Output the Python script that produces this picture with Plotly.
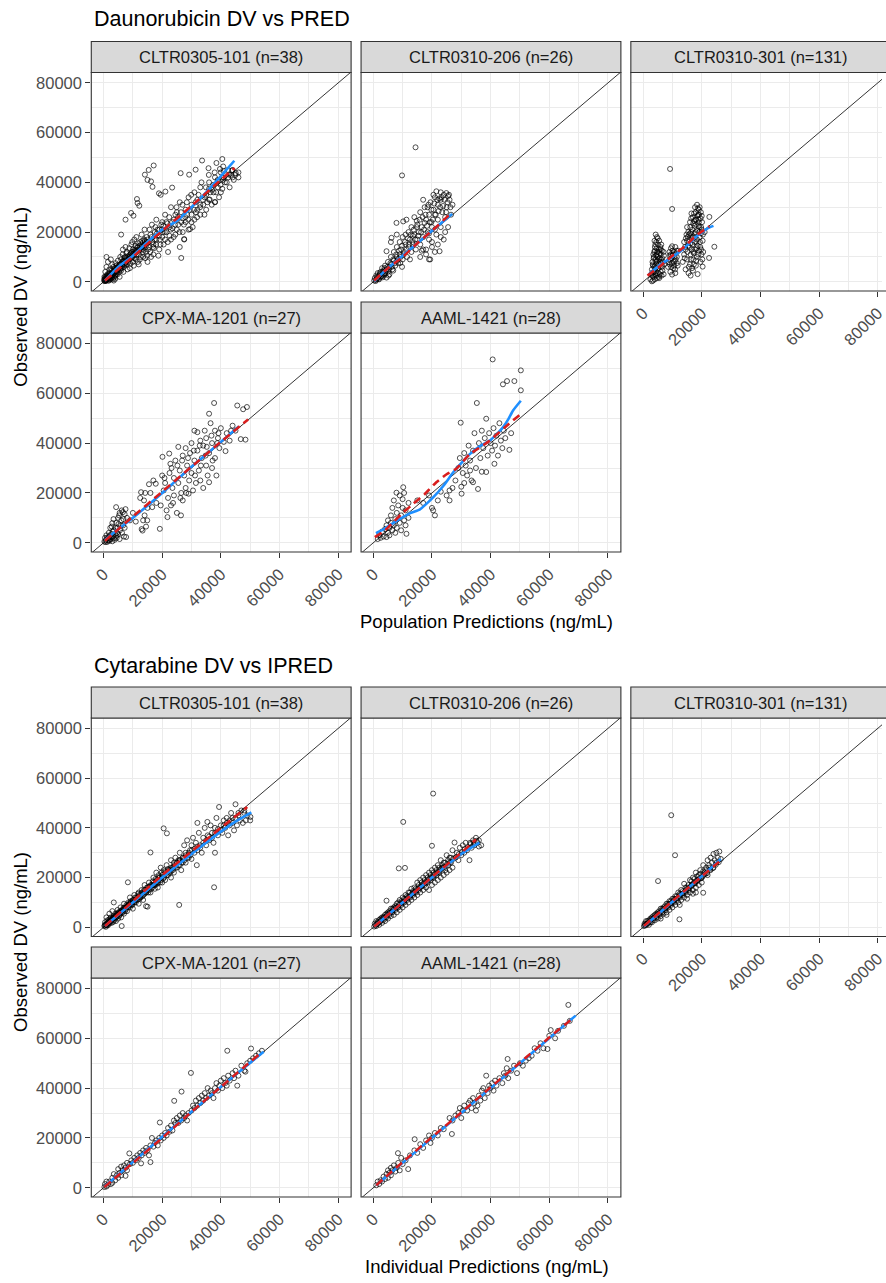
import plotly.graph_objects as go

W, H = 886, 1283
FONT = "Liberation Sans, Arial, sans-serif"
K = 1000.0

# ------------------------------------------------------------------ text
fig_titles = ["Daunorubicin DV vs PRED", "Cytarabine DV vs IPRED"]
x_titles = ["Population Predictions (ng/mL)", "Individual Predictions (ng/mL)"]
y_title = "Observed DV (ng/mL)"
strip_labels = ["CLTR0305-101 (n=38)", "CLTR0310-206 (n=26)", "CLTR0310-301 (n=131)",
                "CPX-MA-1201 (n=27)", "AAML-1421 (n=28)"]
tick_vals = [0, 20000, 40000, 60000, 80000]
tick_text = ["0", "20000", "40000", "60000", "80000"]
minor_vals = [10000, 30000, 50000, 70000]

# ------------------------------------------------------------------ data (thousands ng/mL): (prediction, observed)
dau_101 = [(0.5,0.3),(0.8,1.5),(1,0.5),(1.2,2.5),(1.5,1),(1.8,3.5),(2,1.5),(2.2,0.8),(2.5,2.8),(2.8,4.5),(3,2),(3.2,1),
    (3.5,3.5),(3.8,5.5),(4,2.5),(4.2,4),(4.5,6.5),(4.8,3),(5,5),(0.3,2),(0.6,4),(1,6),(1.5,8),(2,5),(3,7),(2.5,9),(1,10),
    (3.5,0.5),(4,1.2),(5.5,2),(5.5,7),(6,4.5),(6,9),(6.5,11),(7,6),(7,8.5),(7.5,10),(7.5,14),(8,7),(8,12),(8.5,9),(9,5.5),
    (9,11),(9.5,15),(10,8),(10,10),(10,13),(10.5,17),(11,9),(11,12),(11.5,14),(12,7),(12,11),(12.5,16),(13,13),(13,19),
    (13.5,10),(14,15),(14,21),(14.5,12),(15,17),(15,8),(15.5,14),(16,19),(16.5,23),(17,11),(17,15),(17.5,20),(18,17),(18,25),
    (19,13),(19,21),(20,18),(20,24),(20.5,15),(21,27),(21.5,20),(22,12),(22.5,22),(23,17),(23,30),(24,25),(24.5,19),(25,21),
    (25,28),(26,14),(26,32),(26.5,24),(27,20),(27.5,17),(28,29),(28,24),(29,21),(29,34),(30,27),(30,31),(31,25),(31,36),
    (32,29),(32,33),(33,27),(33,38),(34,31),(35,29),(35,35),(36,33),(36,40),(37,37),(38,32),(38,42),(39,38),(40,44),(40,36),
    (41,42),(42,40),(43,38),(44,42),(45,43),(46,44),
    (0.2,0.8),(0.4,1.2),(0.7,0.4),(0.9,2.2),(1.1,1.1),(1.3,3),(1.6,2),(1.9,0.9),(2.1,3.2),(2.4,1.2),(2.6,5),(2.9,2.6),(3.1,4),
    (3.4,6),(3.6,1.8),(3.9,4.8),(4.1,7.5),(4.4,3.2),(4.6,5.5),(4.9,8.5),(5.2,4),(5.4,6),(5.7,10),(6.1,5.5),(6.3,7.8),(6.6,13),
    (6.8,4),(7.1,9.8),(7.3,6.8),(7.8,11.5),(8.2,5),(8.4,9),(8.8,13.5),(9.2,7.2),(9.6,10.5),(9.8,16),(10.3,6.5),(10.6,11.5),
    (10.9,14.5),(11.2,18),(11.7,8),(12.2,12.5),(12.7,10),(13.2,16.5),(13.7,12.8),(14.2,9.5),(14.7,18),(15.2,13),(15.7,21),
    (16.2,10),(16.7,16),(17.2,13.5),(17.7,22),(18.2,19.5),(18.7,10.5),(19.2,17),(19.7,23),(20.2,20),(21,17),(21.8,23.5),
    (22.5,18.5),(23.5,21.5),(24.5,27),(25.5,23),(27,25.5),(28.5,27),(30,24),(31.5,28),(33,31),(34.5,34),(36,37.5),(37.5,36),
    (39,40.5),(41,44.5),(42.5,42),(44,45),
    (0.5,1.8),(0.9,0.6),(1.4,1.6),(1.7,0.4),(2.3,2),(2.7,1.4),(3.3,3),(3.7,2.6),(4.3,5),(4.7,4.2),(5.3,6.5),(5.8,5),(6.4,6),
    (6.9,8),(7.4,7.5),(7.9,9),(8.6,8),(9.1,9.5),(9.7,12),(10.4,9.5),(10.8,12.5),(11.3,11),(11.8,15.5),(12.4,9),(12.9,14),
    (13.4,12),(13.9,17),(14.4,14),(14.9,10.5),(15.4,16),(15.9,12),(16.4,18),(16.9,14),(17.4,17),(17.9,15),(18.4,21),
    (18.9,18.5),(19.4,15),(19.9,21),(20.4,22.5),(20.9,20),(21.4,24),(21.9,16),(22.4,26),(22.9,21),(23.4,24),(23.9,18),
    (24.4,23),(24.9,30),(25.4,26),(25.9,20),(26.4,28),(26.9,31),(27.4,23),(27.9,26),(28.4,32),(28.9,25),(29.4,29),(29.9,35),
    (30.4,22),(30.9,29),(31.4,32),(31.9,26),(32.4,35),(32.9,30),(33.4,40),(33.9,33),(34.4,27),(34.9,38),(35.4,32),(35.9,43),
    (36.4,36),(36.9,31),(37.4,39),(37.9,44),(38.4,36),(38.9,41),(39.4,34),(39.9,39),(40.4,42),(41.4,40),(42.4,45),(43.4,43),
    (44.4,41),(46,42),
    (6,19),(7.5,25),(9.4,27.7),(10.2,26.6),(11.4,33.3),(11.6,31.7),(12.2,30.6),(14.1,43.1),(15,41),(15.4,45),(16.2,40.4),
    (17.1,46.8),(16.7,38.2),(18.9,35.6),(19.5,35),(21.1,36.3),(23.4,37.9),(26.3,43.7),(29.2,43.1),(31.4,45.1),(33.6,48.8),
    (35.8,45.7),(38.5,47.8),(39.7,45.4),(40.5,49.4),(40.8,46.4),(26.5,9.6),(27.5,17.2),(29.5,21.2),(38,32.1),(36.2,33.1),
    (42.8,43.1),(45.1,43.7),(43.9,44.8),(40.5,37.4),(40.8,41)]
dau_101_core = [(0.3,0.3),(0.6,0.7),(0.9,1.3),(1.2,1.6),(1.5,2.3),(1.8,2),(2.1,2.7),(2.4,2.2),(2.7,3.4),(3,3.8),(3.3,3.3),
    (3.6,4.5),(3.9,3.6),(4.2,5.2),(4.5,4.6),(4.8,5.8),(5.1,5.3),(5.4,6.8),(5.7,6),(6,7.2),(6.3,6.6),(6.6,8.2),(6.9,7.1),
    (7.2,8.6),(7.5,7.8),(7.8,9.5),(8.1,8.4),(8.4,10.3),(8.7,9.2),(9,10),(9.3,11.4),(9.6,9.8),(9.9,11),(10.2,12),(10.5,10.8),
    (10.8,13),(11.1,11.8),(11.4,12.6),(11.7,13.8),(12,12.8),(12.3,14.5),(12.6,13.4),(12.9,15),(13.2,14),(13.5,15.8),
    (13.8,14.6),(14.1,16.4),(14.4,15.2),(14.7,16),(15,15.5)]
dau_101_blue = [(0.5,0.5),(5,6),(10,10.5),(15,16),(20,21),(25,24.5),(30,30),(35,36),(40,42.5),(44.6,48.7)]
dau_101_red = [(0.5,0.5),(10,10),(20,20.5),(30,30.5),(40,41),(44.7,45.8)]

dau_206 = [(0.3,0.5),(0.5,1.5),(1,0.8),(1,2.5),(1.5,1.5),(1.5,3.5),(2,1),(2,2.5),(2.5,4),(2.5,2),(3,3),(3,5.5),(3.5,2.5),
    (3.5,4.5),(4,3.5),(4,6.5),(4.5,1.7),(4.5,5),(5,4),(5,8),(5.5,6),(5.5,3),(6,7),(6,10),(6.2,17.7),(6.5,5),(7,8.5),(7,12),
    (7.5,6.5),(7.9,23.7),(8,10),(8,14),(8.5,7.5),(9,11),(9,16),(9.2,7.6),(9.5,13),(10,9),(10,18),(10.2,24.3),(10.5,12),(11,15),
    (11.3,25),(11.5,10),(12,14),(12,20),(12.5,17),(13,12),(13,22),(13.5,15),(14,19),(14,26),(14.5,13),(15,17),(15,23),
    (15.5,20),(16,15),(16,28),(16.5,22),(17,18),(17.5,23.7),(17.5,30),(18,13),(18,25),(18.5,20),(19,9),(19,27),(19.4,9),
    (19.5,32),(20,16),(20,22),(20.5,29),(21,34),(21,12),(21.5,36.4),(21.5,19),(22,25),(22,31),(22.6,12.3),(23,22),(23,33),
    (23.5,28),(24,17),(24,35),(24.5,26),(24.9,35.7),(25,30),(25.5,22),(26,33),(26.5,27),(27,31),(23,36),(25.5,34.5),
    (4.5,12.3),(6,16),(8,19),(1.2,1.2),(2.2,3.5),(3.2,1.8),(3.8,5.5),(5.2,2.5),(6.8,4.5),(8.2,8.5),(9.8,6),(11,19),(12.5,9),
    (13.5,18.5),(14.8,24.5),(16.5,12.5),(18.5,30),(19.8,24),(21,27),(22.5,33.5),(20.5,35),(17,33),(19,19.5),
    (0.8,0.3),(1.3,2),(1.8,1.2),(2.3,3),(2.8,2.2),(3.3,4),(3.8,3),(4.3,4.5),(4.8,6),(5.3,5),(5.8,7.5),(6.3,6),(6.8,9),
    (7.3,7.5),(7.8,11),(8.3,9),(8.8,12.5),(9.3,10),(9.8,14.5),(10.3,11),(10.8,16),(11.3,13),(11.8,17.5),(12.3,15),(12.8,19),
    (13.3,16),(13.8,21),(14.3,17),(14.8,22),(15.3,18.5),(15.8,25),(16.3,20),(16.8,26),(17.3,21),(17.8,27),(18.3,22.5),
    (18.8,31),(19.3,24),(19.8,29),(20.3,25),(20.8,31.5),(21.3,27),(21.8,33),(22.3,28.5),(22.8,30),(23.3,34),(23.8,30.5),
    (24.3,33),(24.8,28),(25.3,32),(25.8,35),(26.3,30),(16,10),(18,11),(20,14),(17,13),(22,15),(23,18),(24.5,20),(21,21),
    (19,17),
    (9.8,42.8),(14.4,54.1)]
dau_206_blue = [(0.3,0.3),(5,5.5),(10,10.5),(15,15.5),(20,20.5),(25,25.5),(26.9,27.3)]
dau_206_red = [(0.3,0.5),(5,5.5),(10,10),(15,15.5),(20,20.5),(26,27)]

dau_301 = [(2.5,1),(2.8,3),(3,0.2),(3,5),(3.2,8),(3.4,0.5),(3.5,2),(3.5,11),(3.8,6),(4,1),(4,4),(4,14),(4.3,19),(4.3,9),
    (4.5,2.5),(4.5,7),(4.5,16),(4.8,12),(5,3.5),(5,10),(5,17.5),(5.2,5.5),(5.5,13),(5.5,1.5),(5.8,8),(6,4),(6,11),(6.2,15),
    (6.5,6),(6.5,9.5),(7,3),(7,12),(7.2,7),(3.6,4),(4.1,6.5),(4.6,11),(5.4,9),(6.3,2.5),
    (3.2,2.5),(3.4,6.5),(3.6,9.5),(3.8,12),(4.1,3),(4.2,5.5),(4.4,10.5),(4.6,13.5),(4.7,1.5),(4.9,8.5),(5.1,15),(5.3,7),
    (5.6,11.5),(5.7,3),(5.9,14),(6.1,9),(6.4,12.5),(6.6,4.5),(6.8,8),(7.1,10.5),(3.9,16.5),(4.7,18),(5.5,16.5),
    (8.5,6),(9,9),(9,12),(9.3,4),(9.5,13.5),(9.8,7.5),(9.9,2.9),(9.9,14.3),(10,10.5),(10.3,5.5),(10.5,12),(10.8,8.5),
    (11,3.5),(11,14),(11.5,10),(11.8,6.5),(12,12.5),
    (8.8,8),(9.2,10.5),(9.6,6),(10.1,12.5),(10.4,8),(10.7,10),(11.2,11.5),(11.5,7.5),(9.4,11),(10.9,5),
    (13.5,8),(14,11),(14,16),(14.5,5),(14.5,13),(14.8,19),(15,9),(15,22),(15.3,14.5),(15.5,3.5),(15.8,17),(16,7),(16,24),
    (16.2,2.5),(16.2,11),(16.5,20),(16.8,15),(17,26),(17,4.5),(17.2,9),(17.5,18),(17.5,22.5),(17.8,13),(18,28),(18,6.5),
    (18.2,16),(18.4,31),(18.5,20.5),(18.6,3.1),(18.8,11),(19,24),(19,29),(19.3,18),(19.5,14),(19.6,8),(19.8,22),(20,26.5),
    (20.3,6.1),(20.3,16.5),(20.5,12),(16.5,27.5),(17.8,25),(18.8,27),(19.2,20),(17.3,11.5),(18.3,13.5),(16.6,17.5),(19.6,25.5),
    (14.2,9.5),(14.6,17.5),(15.1,12),(15.4,20),(15.6,6),(15.9,14),(16.1,22),(16.3,9),(16.6,13),(16.9,18),(17.1,23.5),
    (17.3,7),(17.6,16),(17.9,20),(18.1,25),(18.3,10),(18.6,14.5),(18.9,22.5),(19.1,27),(19.4,16),(19.7,19.5),(19.9,11),
    (20.1,24),(20.2,9),(15.2,18),(16.4,25.5),(17.4,27.5),(18.7,29.5),(19.3,30),(17.7,30),(16.7,5.5),(18.1,8.5),(19.8,13),
    (9.2,45.4),(9.9,29.3),(22.6,26.1),(24.3,14.1),(22.5,9.6),(21,20)]
dau_301_core = [(3,3.5),(3.3,7),(3.7,10),(4,12.5),(4.2,15),(4.5,8),(4.8,5),(5.1,12),(5.3,2),(5.6,9.5),(6,13),(6.3,6.5),
    (9.1,7),(9.7,9.5),(10.2,11),(10.6,6.5),(11.1,9),(11.4,12.5),
    (14.3,14),(15,16.5),(15.7,19),(16.2,15.5),(16.8,21),(17.1,12),(17.6,19.5),(18,23),(18.4,17),(18.9,25),(19.2,22),
    (19.7,28),(20,21),(17.4,24.5),(16,19.5),(18.5,26.5),(19,12.5),(20.4,19)]
dau_301_blue = [(2,3),(6,7),(10,10),(14,13.5),(18,18),(22,21.5),(24,22.5)]
dau_301_red = [(1.5,2.5),(6,6.5),(10,10.5),(14,14),(18,18.5),(22.6,22.3)]

dau_1201 = [(0.3,0.5),(0.5,2),(0.8,1),(1,3),(1.2,0.3),(1.5,1.8),(1.8,4),(2,0.8),(2,2.5),(2.3,6),(2.5,1.5),(2.8,3.5),(3,7.9),
    (3,0.6),(3.3,2.5),(3.5,5),(3.8,1.2),(4,3.5),(4.3,14.3),(4.3,8),(4.5,2),(4.8,6),(5,10),(5,3.5),(5.5,12),(5.5,1.5),(6,7),
    (6.3,4),(6.6,12.3),(6.8,9.5),(7,2.5),(7.2,6),(7.7,2.3),(7.5,13.5),(8,10),(9,9),(10,12),(11,8.5),
    (0.6,0.3),(1.1,1.8),(1.6,0.9),(2.1,3),(2.6,2.2),(3.1,4.5),(3.6,1.8),(4.1,6),(4.6,4),(5.1,7.5),(5.6,5),(6.1,9),(6.7,7),
    (3.4,9.5),(2.8,6.5),(5.3,11),(6.2,13),(7.2,11.5),(1.9,1.2),(4.4,2.8),
    (12.5,18),(12.8,20.3),(13,5.5),(13.3,4.9),(13.5,9),(13.8,17),(14,11),(14.2,20),(14.5,6.5),(14.9,9),(15,14),(15.5,23.5),
    (16,20),(16.6,14.3),(17,25),(17.8,23.7),(18,16),(19.2,5.6),(19.5,15),
    (20,27),(20.1,34.5),(20.5,21),(21,24),(21.5,13),(21.8,10.3),(22,18),(22.4,35.8),(22.5,28),(22.8,31.7),(23,15),(23.5,22),
    (24,26),(24,19),(24.5,33),(25,12),(25.5,38.5),(25.5,24),(26,29),(26.4,11),(26.5,20),(27,35),(27,17),(27.5,27),(28,38),
    (28,22),(28.5,31),(29,19.7),(29.2,25),(29.5,36),(30,40),(30,28),(30.5,21),(31,33),(31,45),(31.5,24),(32,44.4),(32,37),
    (32.5,29),(33,41),(33,25),(33.5,34),(34,39),(34,22),(34.5,45),(35,31),(35,42),(35.5,27),(36,51.8),(36,24.3),(36,36),
    (36.5,48),(37,40),(37,30),(37.7,56.1),(38,45),(38,34),(38.5,27),(39,42),(39.5,38),(40,46),(41.6,36.8),(42,44),(43,41),
    (44,47),(45,45),(45.6,55.1),(46.8,41.6),(47.6,53.6),(48.4,41.4),(48.9,54.5),
    (20.8,26),(23.2,30),(25.2,31),(26.8,33),(28.8,34),(30.8,37),(32.8,39),(34.8,35),(36.8,43),(38.8,40),(23.7,16),(26.2,18),
    (28.2,20),(31.2,27),(33.2,31),(35.2,38.5),(37.2,33),(39.2,44),(41,40.5),(43.5,45)]
dau_1201_blue = [(0.5,1),(5,5.5),(10,10),(20,20),(30,30.5),(40,40.5),(46.1,46.7)]
dau_1201_red = [(0.5,0.8),(10,10.5),(20,20.5),(30,30.5),(40,40.5),(49.3,49.5)]

dau_1421 = [(1.5,1.5),(2,3),(2.5,2),(3,4.5),(3.5,2.5),(4,5.5),(4.5,2.3),(4.5,7),(5,4),(5,9),(5.5,6),(5.5,3),(6,8),(6,11),
    (6.5,5),(6.5,14),(7,7),(7,17),(7.5,9.5),(7.5,4),(7.9,20.1),(8,12),(8,6),(8.5,15),(9,8),(9,19),(9.5,11),(9.5,5),(10,14),
    (10,17.5),(10.2,22.3),(10.5,9),(10.5,20),(11,7),(11,13),(11.3,3.6),(12,10),(12,16),
    (15,17),(17,16),(19,19),(20,14),(20.4,13),(21,11),(22,17),(23,20.5),(25,19),(26,21),(26,17),(27,22),(28,25),(29,30),
    (29.5,34),(29.8,48.2),(30.1,19.7),(30,22.5),(30.5,28),(31,36),(31.5,31),(32,27),(32.5,39),(33,33),(33.5,25),(34,24.3),
    (34,37),(34.5,44),(35,30),(35.3,56.1),(35.7,21.6),(36,40),(36.5,34),(37,28.5),(37,45),(37.5,38),(38,42),(38.5,28.4),
    (38.5,49.8),(39,35),(39.5,44),(40,40),(40.5,37),(40.7,73.6),(41,46),(41.3,31.7),(41.5,39),(42,43),(42.5,35),(43,48),
    (43.5,41),(44,38),(44.2,63.6),(44.5,45),(45,42),(45.6,64.9),(46.4,37.3),(47,44),(48.1,64.9),(50.3,69.2),(50.3,61.2),
    (31,24),(33,29)]
dau_1421_blue = [(0.9,3.9),(4,5.8),(8,8.8),(12.4,11.8),(15.8,13.3),(18,15.5),(20.4,18.2),(24,23),(27.2,28.2),(30,32),
    (32.9,35.6),(36,38.5),(39.7,41),(42,43.5),(44.2,46.3),(46,49.5),(47.6,53),(50.3,57)]
dau_1421_red = [(0.5,2.3),(4,5),(7,8.5),(10,12),(13.6,15.6),(17.5,19.5),(21.5,24.3),(25,27.5),(28.3,29.7),(32.9,35.6),
    (36,38),(39.7,41),(45,46.5),(50.3,51.7)]

cyt_101 = [(0.3,0.5),(0.5,2),(0.8,0.2),(1,1.5),(1,4),(1.3,2.8),(1.5,0.8),(1.8,3),(2,1.5),(2,5.5),(2.3,2.5),(2.5,4),(2.8,1.8),
    (3,3.2),(3,6.5),(3.3,2.2),(3.5,10),(3.5,4.5),(3.8,3),(4,5.5),(4.2,2.5),(4.5,4.8),(4.8,7),(5,3.5),(5,6),(5.5,5),(5.8,8),
    (6,4),(6.2,0.5),(6.5,7),(7,5.5),(7,9.5),(7.5,8),(8,6.5),(8.3,18.1),(8.5,10),(9,8),(9,12),(9.5,9.5),(10,7.5),(10,11),
    (10.5,13),(11,10),(11.5,12),(12,9.5),(12,14),(12.5,12),(13,15),(13.5,11),(14,13.5),(14,17),(14.5,8.5),(15,15),(15,8.3),
    (15.5,18),(16,14),(16,30.1),(16.5,17),(17,20),(17.5,15.5),(18,18),(18,22),(18.5,16),(19,20),(19.5,24),(20,18),(20,21),
    (20.5,39.8),(20.5,23),(21,19),(21.6,37.8),(21.5,25),(22,21),(22.5,23),(23,27),(23,20),(23.5,24),(24,26),(24,22),
    (24.5,28),(25,24),(25.5,27),(25.8,9),(26,30),(26,25),(26.5,23),(27,28),(27.5,33),(28,26),(28,30),(28.5,35),(29,28),
    (29.5,31),(30,27.5),(30,33),(30.5,36),(31,30),(31.5,34),(31.8,25),(32,42),(32,31),(32.5,38),(33,33),(33.5,30),(34,36),
    (34.5,40),(35,33),(35.4,42.4),(35.5,37),(36,35),(36.5,41),(37,38),(37.5,34),(37.7,16.1),(38,30),(38,40),(38.5,44),
    (39,37),(39.4,48.4),(40,41),(40.5,38),(41,43),(41.5,40),(42,44),(42.5,37),(43,41),(43.5,46),(44,42),(44.5,39),(45,49.5),
    (45,44),(45.5,41),(46,45),(46.5,43),(47,47),(47.5,42),(48,46),(48.5,43),(49,45),(50.1,44.4),(50,43),
    (1.2,1),(1.7,2),(2.2,3.5),(2.7,3),(3.2,4),(3.7,3.8),(4.3,4),(4.7,5.5),(5.3,4.5),(5.7,6.5),(6.3,5.8),(6.8,7.8),(7.3,6.5),
    (7.8,9),(8.3,8),(8.8,9.5),(9.3,10.5),(9.8,9),(10.3,10),(10.8,12),(11.3,11),(11.8,13.5),(12.3,11.5),(12.8,13.5),
    (13.3,12.5),(13.8,15),(14.3,14),(14.8,16),(15.3,14),(15.8,16.5),(16.3,15.5),(16.8,18.5),(17.3,17),(17.8,19.5),
    (18.3,17.5),(18.8,21),(19.3,18),(19.8,22),(20.3,19.5),(21,22.5),(22,23.5),(23,22.5),(24,24.5),(25,26),(26,27),(27,26),
    (0.6,1),(1.1,0.8),(1.6,1.8),(2.1,2.3),(2.6,2.2),(3.1,3.6),(3.6,3.4),(4.1,4.6),(4.6,4.3),(5.1,5.6),(5.6,5.4),(6.1,6.6),
    (6.6,6.2),(7.1,7.6),(7.6,7.2),(8.1,8.7),(8.6,8.3),(9.1,9.8),(9.6,9.1),(10.1,10.8),(10.6,10.2),(11.1,11.9),(11.6,11.1),
    (12.1,12.9),(12.6,12.1),(13.1,13.9),(13.6,13.1),(14.1,15),(14.6,14),(15.1,16),(15.6,15),(16.1,17),(16.6,16),(17.1,18),
    (17.6,17),(18.1,19),(18.6,18),(19.1,20),(19.6,19),(20.1,21),(20.6,20),(21.1,22),(21.6,21),(22.1,23),(22.6,22),(23.1,24),
    (23.6,23),(24.1,25),(24.6,24),(25.1,26),(25.6,25),(26.1,27),(26.6,26),(27.1,28),(27.6,27),(28.1,29),(28.6,28),(29.1,30),
    (29.6,29),(30.1,31),(31,31.5),(32,32.5),(33,32),(34,34),(35,35),(36,36.5),(37,36),(38,38),(39,39.5),(40,39),(41,41),
    (42,42),(43,43),(44,44),(46,46),(48,47)]
cyt_101_core = [(0.4,0.8),(0.9,1.2),(1.4,1.4),(1.9,2.2),(2.4,2.6),(2.9,3.1),(3.4,3.8),(3.9,4.1),(4.4,4.9),(4.9,5.1),
    (5.4,5.9),(5.9,6.1),(6.4,6.9),(6.9,7.1),(7.4,7.9),(7.9,8.1),(8.4,8.9),(8.9,9.1),(9.4,9.9),(9.9,10.1),(10.9,11.1),
    (11.9,12.1),(12.9,13.1),(13.9,14.2),(14.9,15.1),(15.9,16.2),(16.9,17.1),(17.9,18.2),(18.9,19.1),(19.9,20.2),
    (21.4,21.6),(22.9,23.2),(24.4,24.6),(25.9,26.2),(27.4,27.6),(28.9,29.2)]
cyt_101_blue = [(0.5,0.5),(10,10),(20,20),(30,29.5),(40,38.5),(45,42.5),(50.4,46.2)]
cyt_101_red = [(0.5,0.5),(10,10.5),(20,21),(30,30.5),(40,40),(49,48.4)]

cyt_206 = [(0.3,0.3),(0.5,1.5),(1,0.5),(1,2.5),(1.5,1.5),(2,3),(2,1),(2.5,2.5),(3,4),(3,1.8),(3.5,3),(4,5),(4,2.5),(4.5,10.7),
    (4.5,4),(5,6),(5,3.5),(5.5,5),(6,7.5),(6,4.5),(6.5,6),(7,8),(7,5),(7.5,7),(8,9.5),(8,6),(8.7,23.7),(8.5,8),(9,11),(9,7),
    (9.5,9),(10,12),(10,8),(10.2,42.4),(10.5,10),(10.8,23.9),(11,13),(11,9),(11.5,11),(12,14),(12,10),(12.5,12),(13,15.5),
    (13,11),(13.5,13),(14,16),(14,12),(14.5,14),(15,18),(15,13),(15.5,15),(16,19),(16,14),(16.5,16.5),(17,20),(17,15),
    (17.5,17),(18,21),(18,16),(18.5,18),(19,22),(19,15),(19.5,19),(20,23),(20,17),(20,32.8),(20.4,53.8),(20.5,20),(21,24),
    (21,18),(21.5,21),(22,25),(22,19),(22.5,22),(23,27),(23,20),(23.5,24),(24,26),(24,21),(24.5,23),(25,29),(25,22),
    (25.5,25),(26,28),(26,23),(26.5,26),(27,31),(27,24),(27.7,34.1),(28,28),(28.5,30),(29,27),(29.5,32),(30,29),(30.5,33),
    (31,30),(31.5,34),(32,31),(32.8,27),(33,34),(33.5,32),(34,35),(34.5,33),(35,36),(35.5,34),(36,35),(36.8,33),(36,32.5),
    (1.5,2.2),(2.5,3.5),(3.5,4.2),(4.5,5.5),(5.5,6.5),(6.5,7.5),(7.5,8.5),(8.5,10),(9.5,10.5),(10.5,11.5),(11.5,12.5),
    (12.5,14),(13.5,14.5),(14.5,15.5),(15.5,17),(16.5,18),(17.5,19),(18.5,20),(19.5,21),(20.5,22),(21.5,23),(22.5,24),
    (23.5,25),(24.5,26),(25.5,27),(26.5,28),
    (1.2,1.2),(2.2,2.2),(3.2,3.5),(4.2,4.2),(5.2,5.5),(6.2,6.2),(7.2,7.5),(8.2,8.2),(9.2,9.5),(10.2,10.2),(11.2,11.5),
    (12.2,12.2),(13.2,13.5),(14.2,14.2),(15.2,15.5),(16.2,16.2),(17.2,17.5),(18.2,18.2),(19.2,19.5),(20.2,20.2),(21.2,21.5),
    (22.2,22.2),(23.2,23.5),(24.2,24.2),(25.2,25.5),(26.2,26.2),(27.2,27.5),(28.2,28.2),(29.2,29.5),(30.2,30.2),(31.2,31.5),
    (32.2,32.2),(33.2,33.5),(34.2,34.2),(35.2,34.8)]
cyt_206_core = [(0.7,0.9),(1.7,1.9),(2.7,2.9),(3.7,3.9),(4.7,4.9),(5.7,5.9),(6.7,6.9),(7.7,7.9),(8.7,8.9),(9.7,9.9),
    (10.7,10.9),(11.7,11.9),(12.7,12.9),(13.7,13.9),(14.7,14.9),(15.7,15.9),(16.7,16.9),(17.7,17.9),(18.7,18.9),(19.7,19.9),
    (20.7,20.9),(21.7,21.9),(22.7,22.9),(23.7,23.9)]
cyt_206_blue = [(0.3,0.3),(10,10),(20,20),(30,29.5),(36.2,34.1)]
cyt_206_red = [(0.3,0.3),(10,10),(20,20.2),(30,30),(35,35.3)]

cyt_301 = [(0.3,0.5),(0.5,1.5),(1,0.8),(1,2.5),(1.5,1.5),(2,2.8),(2,1),(2.5,2),(3,4),(3,2),(3.5,3),(4,5),(4,2.8),(4.5,4),
    (5,6),(5,3.5),(5.1,18.6),(5.5,5),(6,7.5),(6,4.5),(6.5,6),(7,8),(7,5.5),(7.5,7),(8,9.5),(8,6),(8.5,8),(9,10.5),(9,7),
    (9.5,9),(9.6,45.1),(10,11.5),(10,8),(10.5,10),(10.9,29),(11,12.5),(11,9),(11.5,11),(12,14),(12,10),(12.4,3.2),(12.5,12),
    (13,15),(13,11),(13.5,13),(14,17.5),(14,12),(14.5,14),(15,16),(15,13),(15.5,15),(16,19),(16,14),(16.5,17),(17,20),
    (17,15),(17.5,18),(18,22),(18,16),(18.5,19),(19,21),(19,17),(19.5,23),(20,20),(20,18),(20.5,13.9),(20.5,25),(21,22),
    (21.5,24),(22,27),(22,21),(22.5,25),(23,28),(23,23),(23.5,26),(24,29.5),(24,24),(24.5,27),(25,30),(25,26),(25.5,28),
    (26,30.5),(26.5,27.5),(1.5,2.5),(2.5,3.5),(3.5,4.5),(4.5,5.5),(5.5,6.5),(6.5,7.5),(7.5,8.5),(8.5,9.5),(9.5,10.5),
    (10.5,11.5),(11.5,12.5),(12.5,13.5),(13.5,14.5),(14.5,16),(15.5,17),(16.5,18.5),(17.5,19.5),(18.5,20.5),(19.5,21.5),
    (20.5,22.5),(21.5,23),(22.5,24),
    (0.8,1.2),(1.8,1.8),(2.8,3.2),(3.8,3.8),(4.8,5.2),(5.8,5.8),(6.8,7.2),(7.8,7.8),(8.8,9.2),(9.8,9.8),(10.8,11.2),
    (11.8,11.8),(12.8,13.2),(13.8,13.8),(14.8,15.2),(15.8,15.8),(16.8,17.2),(17.8,17.8),(18.8,19.2),(19.8,19.8),(20.8,21.2),
    (21.8,21.8),(22.8,23.2),(23.8,23.8),(24.8,25.2),(25.8,26.2),(15,11.5),(17,13.5),(18,14),(12.5,9),(8,5),(6,3.5)]
cyt_301_core = [(0.6,0.8),(1.3,1.5),(2.3,2.5),(3.3,3.5),(4.3,4.5),(5.3,5.5),(6.3,6.5),(7.3,7.5),(8.3,8.5),(9.3,9.5),
    (10.3,10.5),(11.3,11.5),(12.3,12.5),(13.3,13.5),(14.3,14.5),(15.3,15.5),(16.3,16.5),(17.3,17.5),(18.3,18.5),(19.3,19.5),
    (20.3,20.5),(21.3,21.5)]
cyt_301_blue = [(0.3,0.3),(10,10.3),(20,20.5),(26.5,27.5)]
cyt_301_red = [(0.3,0.5),(10,10.5),(20,20.5),(26,26.5)]

cyt_1201 = [(0.3,0.3),(0.5,1.5),(1,0.5),(1,2.5),(1.5,1.2),(2,2.5),(2.5,1.5),(3,4),(3,2),(3.5,5.5),(4,3),(4.5,5),(5,4),(5,7.5),
    (5.5,6),(6,5),(6,8.5),(6.5,7),(7,9),(7.5,4.8),(7.5,8),(8,10),(8,7),(8.8,13.8),(9,9.5),(9.5,11),(10,10),(10.5,12),(11,11),
    (11.5,13),(12,12),(12.8,9.8),(12.5,14),(13,13),(13.5,15),(14,14),(14.5,16),(15,15),(15.5,13),(16,10.3),(16,17),(16.5,20),
    (17,16.5),(17.5,18),(18,19),(18.5,17),(19,20),(19.2,26.2),(19.5,19),(20,21),(20.5,20),(21,22),(21.5,21),(22,24),
    (22.5,22.5),(23,25),(23.5,23),(24,27),(24.1,34.9),(24.5,26),(25,28),(25.5,26),(26,29),(26.6,38.6),(26.5,27),(27,30),
    (27.5,28),(28,29),(28.5,27),(29,30),(29.8,46.1),(30,31),(30.5,33),(31,32),(31.5,35),(32,33),(32.5,36),(33,34),(33.5,37),
    (34,35),(34.5,38),(35,36),(35.5,40),(36,37),(36.5,39),(37,38),(37.5,36),(38,40),(38.5,42),(39,39),(39.5,41),(40,43),
    (40.5,40),(41,44),(41.5,42),(42,41),(42.2,55),(42.5,45),(43,43),(44,46),(44.5,44),(45,47),(45.6,41),(46,45),(47,49),
    (48,47),(48.4,46.6),(49,50),(50,51),(50.3,55.9),(51,52),(52,53),(53,54),(54,55)]
cyt_1201_blue = [(0.3,0.5),(10,10.3),(20,20.5),(30,30.5),(40,40.5),(54.6,54.6)]
cyt_1201_red = [(0.3,0.3),(10,10),(20,20),(30,30.5),(40,40.5),(53,53.5)]

cyt_1421 = [(1,1),(1.5,2.5),(2,1.5),(2.5,3),(3,2.5),(3.5,4.5),(4,3.5),(4.5,5.5),(5,4),(5,7),(5.5,6),(6,5),(6,8),(6.5,7),
    (7,9),(7.5,6.5),(8,8),(8.4,13.9),(8.5,10),(9,7),(9.5,12),(10,9.5),(11,11),(11.9,7.5),(12.5,13),(14,15),(14.1,19.5),
    (15,14),(16,17.5),(17,16),(18,19),(19,21),(19.5,18),(20,20),(21,22),(22,21),(23,24),(24,23.5),(26,28),(26.8,21.6),
    (27,27),(28,29),(29,30),(29.5,32),(30,28),(30.5,31),(31,33),(32,31),(32.5,34),(33,35),(33.5,32),(34,36),(34.5,34),
    (35,31),(35.5,33),(36,37),(36.5,35),(37,39),(37.5,40),(38,36),(38.5,45),(39,38),(39.5,41),(40,40),(40.5,42),(41,39),
    (41.5,43),(42,41),(43,44),(44,42),(44.5,46),(45,45),(45.5,48),(45.8,51.7),(46,44),(47,47),(48,49),(49,46),(50,50),
    (51,49),(52,51),(53,52),(54,53),(55,56),(56,55),(57,58),(58,56),(59.4,55.7),(60,61),(60.5,63.3),(62,60),(63,63),
    (65,65),(66.5,73.4),(67,67)]
cyt_1421_blue = [(1,1),(10,10),(20,20),(30,30),(40,40),(50,50),(60,60),(69,69.1)]
cyt_1421_red = [(1,1),(10,10.3),(20,20.3),(30,30.2),(40,40.3),(50,50.2),(60,60.3),(68,68)]

dau_sets = [(dau_101 + dau_101_core, dau_101_blue, dau_101_red), (dau_206, dau_206_blue, dau_206_red),
            (dau_301 + dau_301_core, dau_301_blue, dau_301_red), (dau_1201, dau_1201_blue, dau_1201_red),
            (dau_1421, dau_1421_blue, dau_1421_red)]
cyt_sets = [(cyt_101 + cyt_101_core, cyt_101_blue, cyt_101_red), (cyt_206 + cyt_206_core, cyt_206_blue, cyt_206_red),
            (cyt_301 + cyt_301_core, cyt_301_blue, cyt_301_red), (cyt_1201, cyt_1201_blue, cyt_1201_red),
            (cyt_1421, cyt_1421_blue, cyt_1421_red)]

# ------------------------------------------------------------------ geometry (pixels)
col_px = [(91.7, 352.7), (362.7, 623.7), (633.7, 894.7)]
row_px = [[(72.5, 291.0), (333.0, 552.0)], [(718.0, 936.5), (978.0, 1197.0)]]
STRIP = 31.0
XR = (-4175.0, 84420.0)
YR = (-3700.0, 84200.0)
panel_rc = [(0, 0), (0, 1), (0, 2), (1, 0), (1, 1)]
title_y = [19.0, 665.5]
xtitle_y = [621.0, 1266.0]
xtitle_x = 489.0


def px_x(p):
    return p / W


def px_y(p):
    return 1 - p / H


fig = go.Figure()
shapes, annotations = [], []
layout_axes = {}

axis_font = dict(family=FONT, size=16.5, color="#4D4D4D")
n = 0
for f, sets in enumerate([dau_sets, cyt_sets]):
    for p, (pts, blue, red) in enumerate(sets):
        n += 1
        r, c = panel_rc[p]
        x0p, x1p = col_px[c]
        y0p, y1p = row_px[f][r]
        xs = "x" if n == 1 else f"x{n}"
        ys = "y" if n == 1 else f"y{n}"
        xk = "xaxis" if n == 1 else f"xaxis{n}"
        yk = "yaxis" if n == 1 else f"yaxis{n}"
        vis_x1 = min(x1p, W)
        span = XR[1] - XR[0]
        xr1 = XR[0] + (vis_x1 - x0p) * span / (x1p - x0p)
        show_x = (r == 1) or (c == 2)
        show_y = (c == 0)
        common = dict(showgrid=True, gridcolor="#EBEBEB", gridwidth=1.1, zeroline=False, showline=False,
                      tickmode="array", tickvals=tick_vals, ticktext=tick_text, ticklen=5, tickwidth=1,
                      tickcolor="#333333", tickfont=axis_font,
                      minor=dict(tickmode="array", tickvals=minor_vals, showgrid=True,
                                 gridcolor="#EBEBEB", gridwidth=0.6, ticks=""))
        layout_axes[xk] = dict(common, domain=[px_x(x0p), px_x(vis_x1)], range=[XR[0], xr1], anchor=ys,
                               showticklabels=show_x, ticks="outside" if show_x else "", tickangle=-45,
                               ticklabeloverflow="allow")
        layout_axes[yk] = dict(common, domain=[px_y(y1p), px_y(y0p)], range=list(YR), anchor=xs,
                               showticklabels=show_y, ticks="outside" if show_y else "")
        fig.add_trace(go.Scatter(x=[-6000, 90000], y=[-6000, 90000], mode="lines", xaxis=xs, yaxis=ys,
                                 line=dict(color="black", width=0.8), showlegend=False, hoverinfo="skip"))
        fig.add_trace(go.Scatter(x=[a * K for a, b in pts], y=[b * K for a, b in pts], mode="markers",
                                 xaxis=xs, yaxis=ys, showlegend=False,
                                 marker=dict(symbol="circle-open", size=5, color="rgba(0,0,0,0.68)",
                                             line=dict(width=1))))
        fig.add_trace(go.Scatter(x=[a * K for a, b in blue], y=[b * K for a, b in blue], mode="lines",
                                 xaxis=xs, yaxis=ys, showlegend=False,
                                 line=dict(color="#1E8FFF", width=2.6, shape="spline", smoothing=0.5)))
        fig.add_trace(go.Scatter(x=[a * K for a, b in red], y=[b * K for a, b in red], mode="lines",
                                 xaxis=xs, yaxis=ys, showlegend=False,
                                 line=dict(color="#D91E1E", width=2.6, dash="8px,5px", shape="spline",
                                           smoothing=0.5)))
        shapes.append(dict(type="rect", xref="paper", yref="paper", x0=px_x(x0p), x1=px_x(x1p),
                           y0=px_y(y1p), y1=px_y(y0p), line=dict(color="#333333", width=1.1),
                           fillcolor="rgba(0,0,0,0)", layer="above"))
        shapes.append(dict(type="rect", xref="paper", yref="paper", x0=px_x(x0p), x1=px_x(x1p),
                           y0=px_y(y0p), y1=px_y(y0p - STRIP), line=dict(color="#333333", width=1.1),
                           fillcolor="#D9D9D9", layer="above"))
        annotations.append(dict(xref="paper", yref="paper", x=px_x((x0p + x1p) / 2), y=px_y(y0p - STRIP / 2),
                                text=strip_labels[p], showarrow=False, xanchor="center", yanchor="middle",
                                font=dict(family=FONT, size=16.5, color="#1A1A1A")))
    annotations.append(dict(xref="paper", yref="paper", x=px_x(92), y=px_y(title_y[f]), text=fig_titles[f],
                            showarrow=False, xanchor="left", yanchor="middle",
                            font=dict(family=FONT, size=21.5, color="black")))
    annotations.append(dict(xref="paper", yref="paper", x=px_x(xtitle_x), y=px_y(xtitle_y[f]), text=x_titles[f],
                            showarrow=False, xanchor="center", yanchor="middle",
                            font=dict(family=FONT, size=18.5, color="black")))
    top = row_px[f][0][0] - STRIP
    bot = row_px[f][1][1]
    annotations.append(dict(xref="paper", yref="paper", x=px_x(21), y=px_y((top + bot) / 2), text=y_title,
                            showarrow=False, xanchor="center", yanchor="middle", textangle=-90,
                            font=dict(family=FONT, size=18.5, color="black")))

fig.update_layout(width=W, height=H, margin=dict(l=0, r=0, t=0, b=0), paper_bgcolor="white",
                  plot_bgcolor="white", showlegend=False, shapes=shapes, annotations=annotations,
                  **layout_axes)
fig.write_html("out.html")
